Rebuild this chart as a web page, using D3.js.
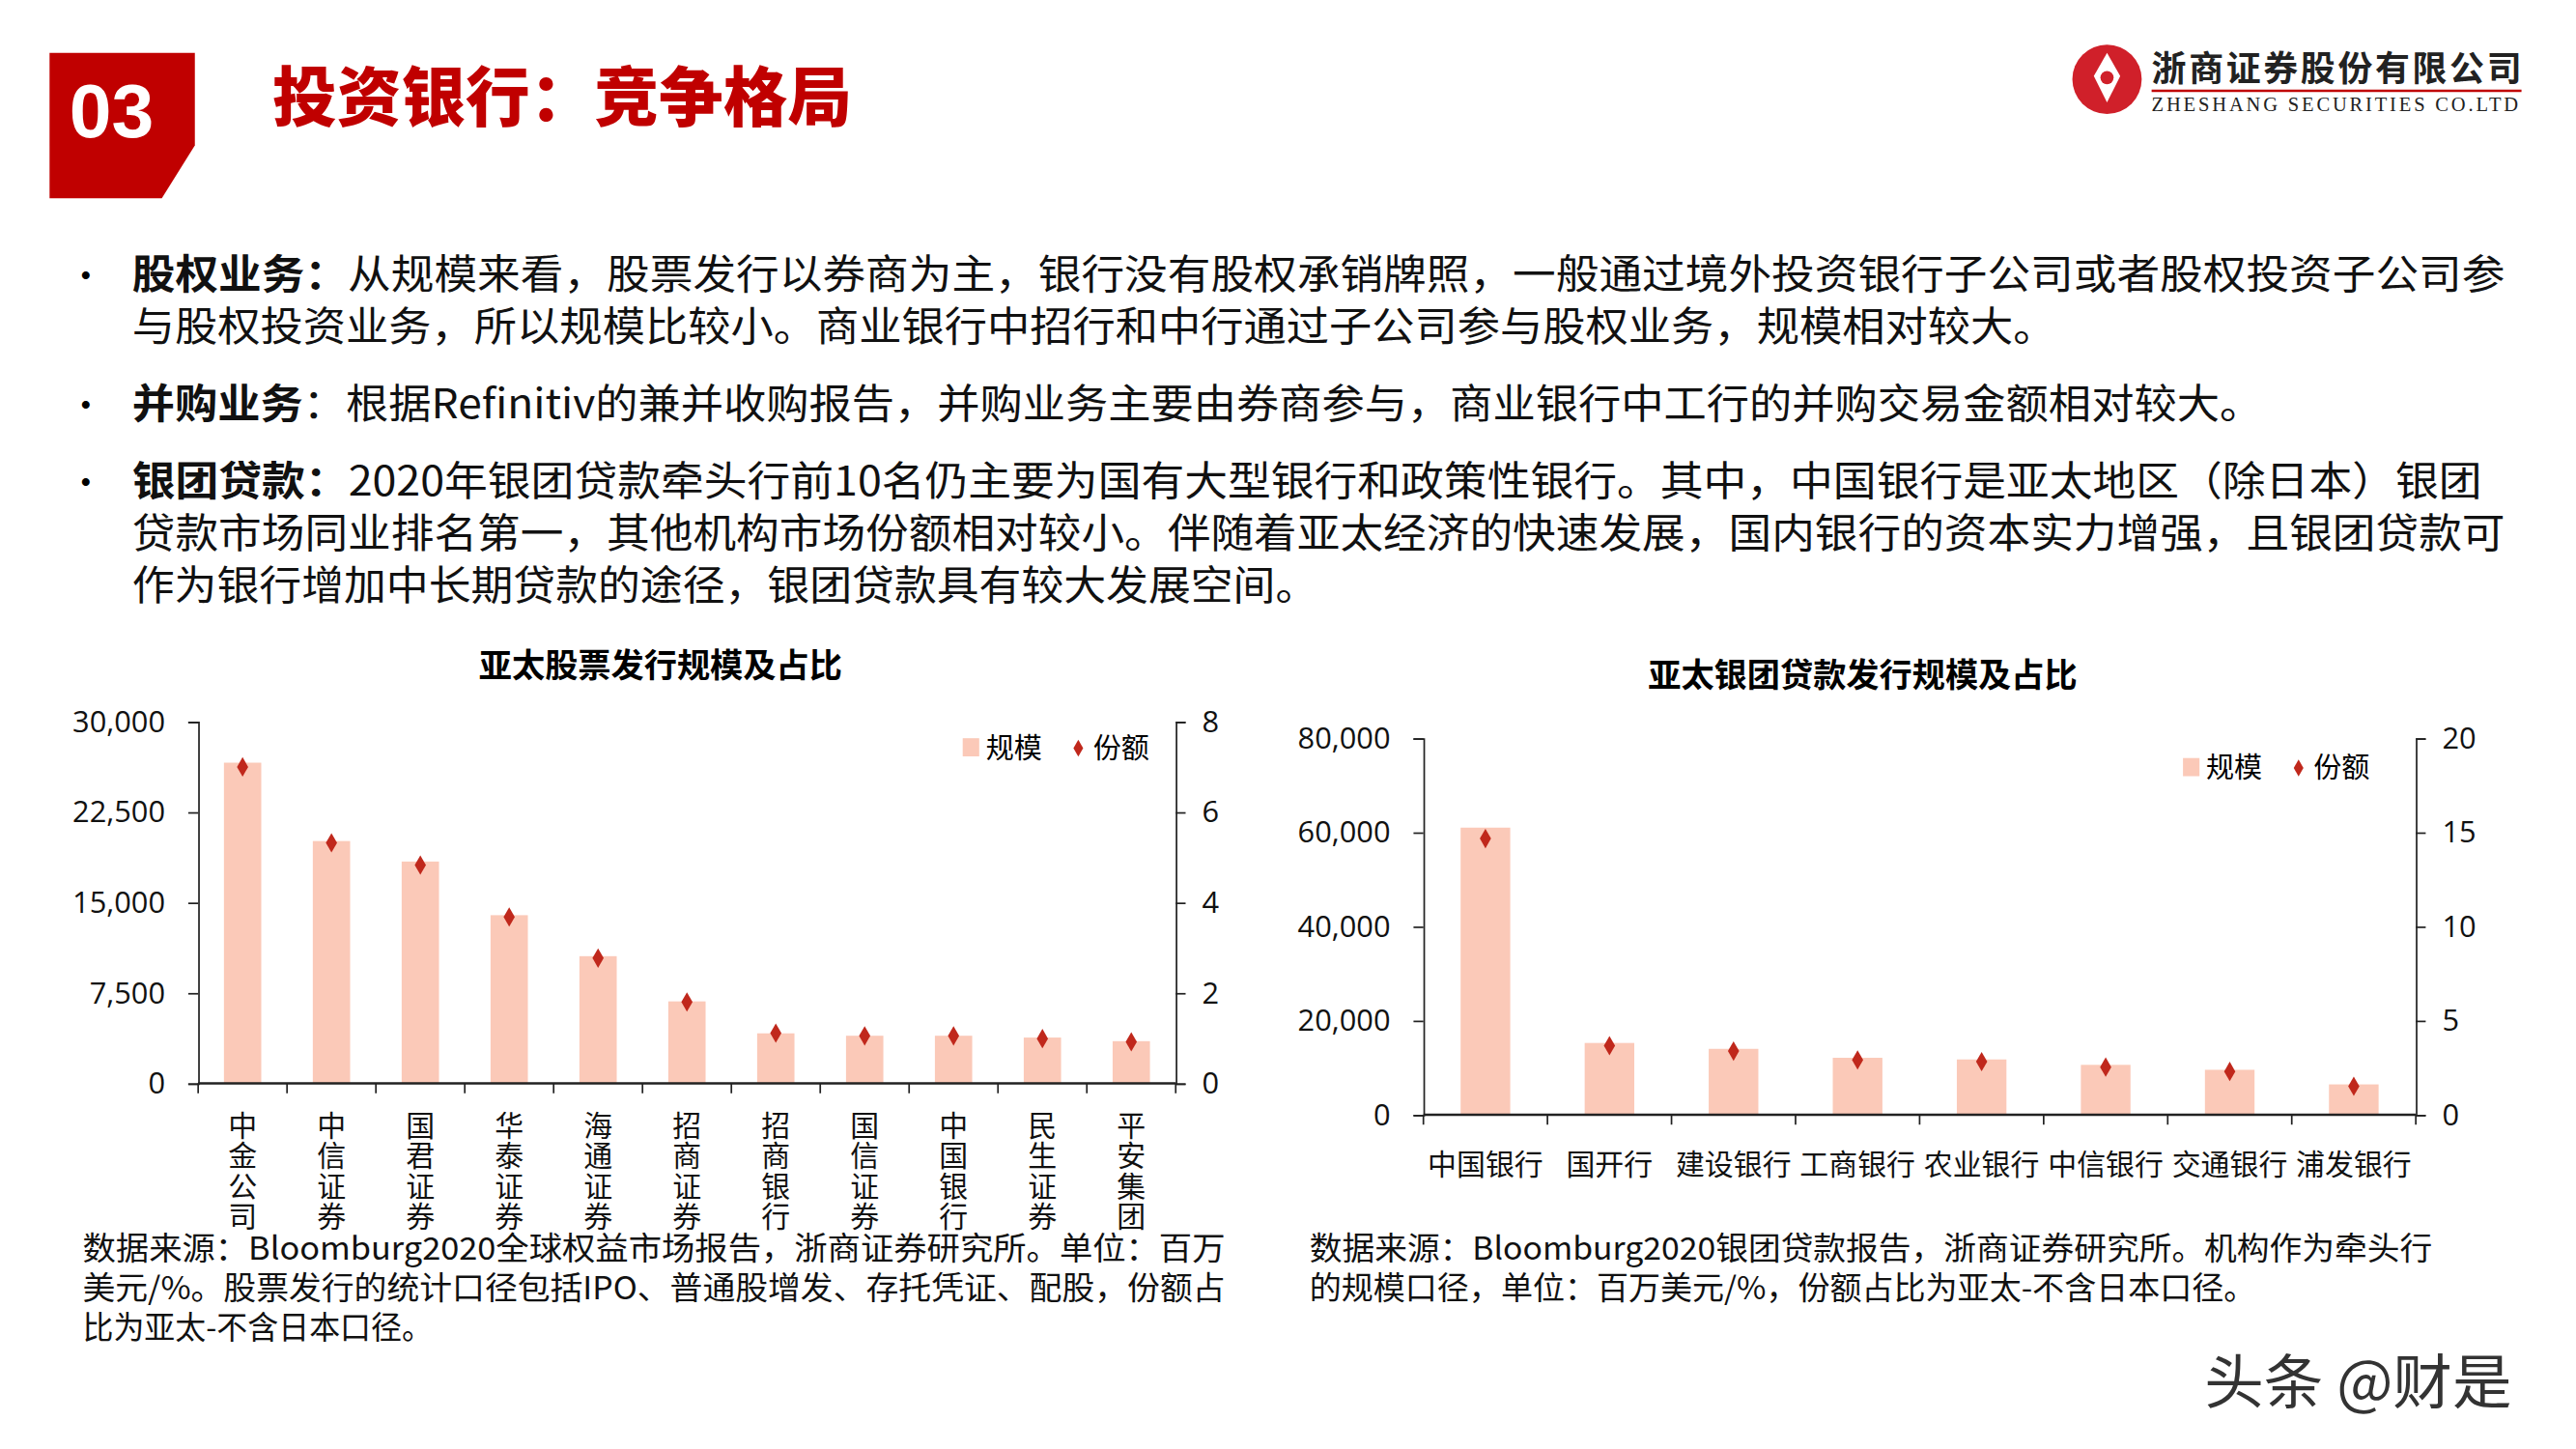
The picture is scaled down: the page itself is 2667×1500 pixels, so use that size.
<!DOCTYPE html>
<html><head><meta charset="utf-8">
<script src="https://cdn.jsdelivr.net/npm/d3@7"></script>
<style>body{margin:0;background:#fff}svg{display:block;font-family:"Noto Sans CJK SC","Noto Sans",sans-serif}</style>
</head><body>
<script>
// data
var eqCats = ["中金公司","中信证券","国君证券","华泰证券","海通证券","招商证券","招商银行","国信证券","中国银行","民生证券","平安集团"];
var eqSize = [26600,20100,18400,13950,10550,6800,4150,3950,3950,3800,3500];
var eqShare = [7.0,5.32,4.83,3.68,2.77,1.80,1.11,1.05,1.05,0.99,0.92];
var eqLeftTicks = [0,7500,15000,22500,30000];
var eqRightTicks = [0,2,4,6,8];

var lnCats = ["中国银行","国开行","建设银行","工商银行","农业银行","中信银行","交通银行","浦发银行"];
var lnSize = [61000,15250,14000,12100,11750,10600,9550,6450];
var lnShare = [14.67,3.67,3.38,2.91,2.82,2.53,2.30,1.51];
var lnLeftTicks = [0,20000,40000,60000,80000];
var lnRightTicks = [0,5,10,15,20];

var bullets = [
  {head:"股权业务：", lines:["从规模来看，股票发行以券商为主，银行没有股权承销牌照，一般通过境外投资银行子公司或者股权投资子公司参","与股权投资业务，所以规模比较小。商业银行中招行和中行通过子公司参与股权业务，规模相对较大。"], w:[1437,1165], y:175},
  {head:"并购业务", lines:["：根据Refinitiv的兼并收购报告，并购业务主要由券商参与，商业银行中工行的并购交易金额相对较大。"], w:[1290], y:253},
  {head:"银团贷款：", lines:["2020年银团贷款牵头行前10名仍主要为国有大型银行和政策性银行。其中，中国银行是亚太地区（除日本）银团","贷款市场同业排名第一，其他机构市场份额相对较小。伴随着亚太经济的快速发展，国内银行的资本实力增强，且银团贷款可","作为银行增加中长期贷款的途径，银团贷款具有较大发展空间。"], w:[1423,1437,718], y:300}
];

var BAR = "#fbc9b8", DOT = "#c0281c", RED = "#c00000";

var svg = d3.select("body").append("svg")
  .attr("width",2667).attr("height",1500)
  .attr("viewBox","0 0 1560 877.4");

// header
svg.append("path").attr("d","M30,32H118V88L98,120H30Z").attr("fill",RED);
svg.append("text").attr("x",42).attr("y",83).attr("fill","#fff")
  .attr("font-size",46).attr("font-weight",700).attr("font-family","Arial,'Liberation Sans'").text("03");
svg.append("text").attr("x",165).attr("y",73).attr("fill",RED)
  .attr("font-size",39).attr("font-weight",900).text("投资银行：竞争格局");

// logo
svg.append("circle").attr("cx",1276).attr("cy",48).attr("r",21).attr("fill","#d0202a");
svg.append("path").attr("d","M1276,32L1284,46L1276,62L1268,46Z").attr("fill","#fff");
svg.append("circle").attr("cx",1276).attr("cy",47).attr("r",4).attr("fill","#d0202a");
svg.append("text").attr("x",1303).attr("y",49).attr("font-size",21).attr("font-weight",700)
  .attr("fill","#222").attr("textLength",224).text("浙商证券股份有限公司");
svg.append("line").attr("x1",1303).attr("x2",1527).attr("y1",55).attr("y2",55).attr("stroke","#c00000").attr("stroke-width",1.5);
svg.append("text").attr("x",1303).attr("y",67).attr("font-size",12).attr("font-family","'Liberation Serif',serif")
  .attr("fill","#222").attr("textLength",222).text("ZHESHANG SECURITIES CO.LTD");

// bullets
bullets.forEach(function(b){
  svg.append("text").attr("x",41).attr("y",b.y).attr("font-size",22).text("•");
  b.lines.forEach(function(l,i){
    var t = svg.append("text").attr("x",80).attr("y",b.y+i*31.5).attr("font-size",24.5).attr("fill","#111")
      .attr("textLength",b.w[i]).attr("lengthAdjust","spacingAndGlyphs");
    if(i==0){ t.append("tspan").attr("font-weight",700).text(b.head); }
    t.append("tspan").text(l);
  });
});

function chart(o){
  var g = svg.append("g");
  var x = d3.scaleBand().domain(o.cats).range([o.x0,o.x1]);
  var yl = d3.scaleLinear().domain([0,o.lt[o.lt.length-1]]).range([o.y1,o.y0]);
  var yr = d3.scaleLinear().domain([0,o.rt[o.rt.length-1]]).range([o.y1,o.y0]);
  g.append("text").attr("x",o.tx).attr("y",o.ty).attr("text-anchor","middle")
    .attr("font-size",20).attr("font-weight",700).text(o.title);
  var la = g.append("g").attr("transform","translate("+o.x0+",0)")
    .call(d3.axisLeft(yl).tickValues(o.lt).tickSize(6).tickPadding(14).tickFormat(d3.format(",")));
  var ra = g.append("g").attr("transform","translate("+o.x1+",0)")
    .call(d3.axisRight(yr).tickValues(o.rt).tickSize(6).tickPadding(10));
  [la,ra].forEach(function(a){
    a.selectAll("text").attr("font-size",18).attr("fill","#111").attr("font-family","'Open Sans','Noto Sans',sans-serif");
    a.selectAll("path,line").attr("stroke","#222");
  });
  g.selectAll(".bar").data(o.size).enter().append("rect")
    .attr("x",function(d,i){return x(o.cats[i])+x.bandwidth()*(1-o.bw)/2;})
    .attr("width",x.bandwidth()*o.bw)
    .attr("y",function(d){return yl(d);})
    .attr("height",function(d){return o.y1-yl(d);})
    .attr("fill",BAR);
  g.selectAll(".dot").data(o.share).enter().append("path")
    .attr("d",d3.symbol(d3.symbolDiamond,40))
    .attr("transform",function(d,i){return "translate("+(x(o.cats[i])+x.bandwidth()/2)+","+yr(d)+")";})
    .attr("fill",DOT);
  // x axis
  g.append("line").attr("x1",o.x0).attr("x2",o.x1).attr("y1",o.y1).attr("y2",o.y1).attr("stroke","#222").attr("stroke-width",1.5);
  g.selectAll(".xt").data(o.cats.concat([null])).enter().append("line")
    .attr("x1",function(d,i){return o.x0+i*x.step();}).attr("x2",function(d,i){return o.x0+i*x.step();})
    .attr("y1",o.y1).attr("y2",o.y1+6).attr("stroke","#222");
  o.cats.forEach(function(c,i){
    var cx = x(c)+x.bandwidth()/2;
    if(o.vert){
      var t = g.append("text").attr("text-anchor","middle").attr("font-size",17.5).attr("fill","#111");
      c.split("").forEach(function(ch,k){
        t.append("tspan").attr("x",cx).attr("y",o.y1+32+k*18.3).text(ch);
      });
    } else {
      g.append("text").attr("x",cx).attr("y",o.y1+36).attr("text-anchor","middle")
        .attr("font-size",17.5).attr("fill","#111").text(c);
    }
  });
  // legend
  g.append("rect").attr("x",o.lx).attr("y",o.ly-12).attr("width",10).attr("height",11).attr("fill",BAR);
  g.append("text").attr("x",o.lx+14).attr("y",o.ly).attr("font-size",17).text("规模");
  g.append("path").attr("d",d3.symbol(d3.symbolDiamond,30)).attr("fill",DOT)
    .attr("transform","translate("+(o.lx+70)+","+(o.ly-6)+")");
  g.append("text").attr("x",o.lx+79).attr("y",o.ly).attr("font-size",17).text("份额");
  o.src.forEach(function(s,i){
    g.append("text").attr("x",o.sx).attr("y",763+i*24).attr("font-size",19).attr("fill","#111")
      .attr("textLength",o.sw[i]).attr("lengthAdjust","spacingAndGlyphs").text(s);
  });
}

chart({cats:eqCats,size:eqSize,share:eqShare,lt:eqLeftTicks,rt:eqRightTicks,
  x0:120,x1:712,y0:437,y1:656,bw:0.42,vert:true,title:"亚太股票发行规模及占比",tx:400,ty:410,
  lx:583,ly:459,sx:50,sw:[692,692,212],
  src:["数据来源：Bloomburg2020全球权益市场报告，浙商证券研究所。单位：百万","美元/%。股票发行的统计口径包括IPO、普通股增发、存托凭证、配股，份额占","比为亚太-不含日本口径。"]});
chart({cats:lnCats,size:lnSize,share:lnShare,lt:lnLeftTicks,rt:lnRightTicks,
  x0:862,x1:1463,y0:447,y1:675,bw:0.4,vert:false,title:"亚太银团贷款发行规模及占比",tx:1128,ty:416,
  lx:1322,ly:471,sx:793,sw:[680,573],
  src:["数据来源：Bloomburg2020银团贷款报告，浙商证券研究所。机构作为牵头行","的规模口径，单位：百万美元/%，份额占比为亚太-不含日本口径。"]});

// watermark
svg.append("text").attr("x",1335).attr("y",850).attr("font-size",36).attr("fill","#333").text("头条 @财是");
</script>
</body></html>
